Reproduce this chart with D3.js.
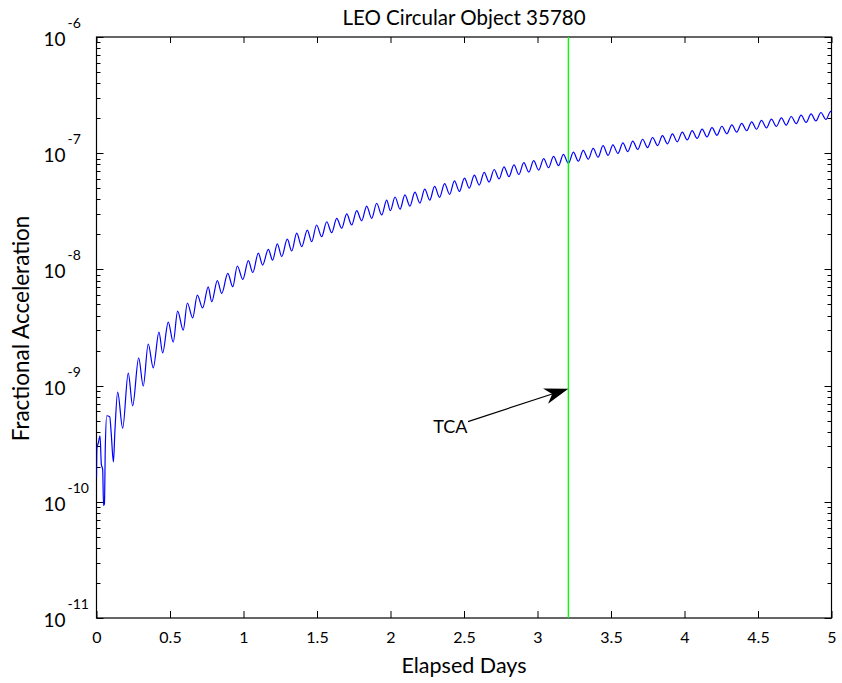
<!DOCTYPE html>
<html>
<head>
<meta charset="utf-8">
<script src="https://cdn.jsdelivr.net/npm/d3@7"></script>
<style>
  html, body { margin: 0; padding: 0; background: #fff; }
  svg text { font-family: Lato, "Liberation Sans", sans-serif; fill: #000; }
</style>
</head>
<body>
<svg id="chart" width="842" height="683"></svg>
<script>
// ---------- data ----------
const chartTitle = "LEO Circular Object 35780";
const xLabel = "Elapsed Days";
const yLabel = "Fractional Acceleration";
const xTicks = [0, 0.5, 1, 1.5, 2, 2.5, 3, 3.5, 4, 4.5, 5];
const xTickLabels = ["0", "0.5", "1", "1.5", "2", "2.5", "3", "3.5", "4", "4.5", "5"];
const yDecadeExponents = [-11, -10, -9, -8, -7, -6];
const yMinorMultipliers = [2, 3, 4, 5, 6, 7, 8, 9];
const tcaDay = 3.21;
const tcaLabel = "TCA";
const tcaArrowTail = [2.527, 4.9e-10];
const tcaArrowTip = [3.21, 9.4e-10];
const tcaTextPos = [2.29, 3.9e-10];

// [elapsed days, fractional acceleration]
const accelSeries = [
  [0.000, 1.6e-10], [0.003, 2.9e-10], [0.012, 3.2e-10], [0.024, 3.7e-10], [0.033, 2.1e-10],
  [0.042, 1.9e-10], [0.048, 9.3e-11], [0.054, 9.6e-11], [0.060, 3.0e-10], [0.070, 5.5e-10],
  [0.090, 5.4e-10], [0.100, 3.9e-10], [0.115, 2.2e-10], [0.125, 4.0e-10], [0.144, 8.8e-10],
  [0.178, 4.3e-10], [0.216, 1.28e-9], [0.246, 6.7e-10], [0.287, 1.73e-9], [0.318, 9.9e-10],
  [0.352, 2.28e-9], [0.386, 1.42e-9], [0.425, 2.89e-9], [0.450, 1.91e-9], [0.488, 3.52e-9],
  [0.522, 2.37e-9], [0.552, 4.38e-9], [0.590, 3.0e-9], [0.618, 5.14e-9], [0.654, 3.82e-9],
  [0.686, 6.0e-9], [0.722, 4.66e-9], [0.760, 7.06e-9], [0.784, 5.27e-9], [0.822, 8.0e-9],
  [0.852, 6.22e-9], [0.893, 9.25e-9], [0.927, 7.1e-9], [0.958, 1.07e-8], [0.995, 8.2e-9],
  [1.033, 1.19e-8], [1.063, 9.4e-9], [1.101, 1.38e-8], [1.130, 1.09e-8], [1.169, 1.49e-8],
  [1.198, 1.2e-8], [1.230, 1.66e-8], [1.260, 1.29e-8], [1.298, 1.82e-8], [1.328, 1.44e-8],
  [1.362, 2.05e-8], [1.396, 1.57e-8], [1.434, 2.18e-8], [1.464, 1.73e-8], [1.497, 2.41e-8],
  [1.532, 1.91e-8], [1.566, 2.57e-8], [1.600, 2.07e-8], [1.634, 2.75e-8], [1.668, 2.26e-8],
  [1.702, 3.0e-8], [1.736, 2.41e-8], [1.770, 3.2e-8], [1.804, 2.62e-8], [1.838, 3.51e-8],
  [1.872, 2.75e-8], [1.906, 3.71e-8], [1.940, 2.94e-8], [1.974, 3.95e-8], [1.999, 3.2e-8],
  [2.031, 4.2e-8], [2.065, 3.30e-8], [2.098, 4.38e-8], [2.132, 3.50e-8], [2.166, 4.62e-8],
  [2.200, 3.72e-8], [2.233, 4.90e-8], [2.267, 3.94e-8], [2.300, 5.19e-8], [2.334, 4.17e-8],
  [2.368, 5.48e-8], [2.402, 4.43e-8], [2.435, 5.79e-8], [2.469, 4.69e-8], [2.503, 6.11e-8],
  [2.536, 5.00e-8], [2.570, 6.47e-8], [2.604, 5.32e-8], [2.637, 6.84e-8], [2.671, 5.65e-8],
  [2.705, 7.24e-8], [2.739, 6.01e-8], [2.772, 7.64e-8], [2.806, 6.28e-8], [2.840, 7.94e-8],
  [2.873, 6.56e-8], [2.907, 8.30e-8], [2.941, 6.87e-8], [2.974, 8.63e-8], [3.008, 7.16e-8],
  [3.042, 8.99e-8], [3.075, 7.50e-8], [3.109, 9.38e-8], [3.143, 7.82e-8], [3.176, 9.77e-8],
  [3.210, 8.17e-8], [3.244, 1.02e-7], [3.278, 8.53e-8], [3.311, 1.057e-7], [3.345, 8.87e-8],
  [3.379, 1.099e-7], [3.412, 9.23e-8], [3.446, 1.16e-7], [3.480, 9.57e-8], [3.513, 1.18e-7],
  [3.547, 9.95e-8], [3.581, 1.225e-7], [3.614, 1.033e-7], [3.648, 1.271e-7], [3.682, 1.076e-7],
  [3.715, 1.318e-7], [3.749, 1.117e-7], [3.783, 1.365e-7], [3.817, 1.161e-7], [3.850, 1.416e-7],
  [3.884, 1.205e-7], [3.918, 1.466e-7], [3.951, 1.253e-7], [3.985, 1.521e-7], [4.019, 1.300e-7],
  [4.052, 1.567e-7], [4.086, 1.340e-7], [4.120, 1.614e-7], [4.153, 1.380e-7], [4.187, 1.660e-7],
  [4.221, 1.426e-7], [4.254, 1.706e-7], [4.288, 1.469e-7], [4.322, 1.754e-7], [4.355, 1.517e-7],
  [4.389, 1.807e-7], [4.423, 1.560e-7], [4.457, 1.862e-7], [4.490, 1.607e-7], [4.524, 1.914e-7],
  [4.558, 1.652e-7], [4.591, 1.963e-7], [4.625, 1.702e-7], [4.659, 2.014e-7], [4.692, 1.746e-7],
  [4.726, 2.070e-7], [4.760, 1.795e-7], [4.793, 2.123e-7], [4.827, 1.841e-7], [4.861, 2.178e-7],
  [4.894, 1.897e-7], [4.928, 2.239e-7], [4.962, 1.950e-7], [4.995, 2.296e-7], [5.000, 2.25e-7]
];

// ---------- layout ----------
const svg = d3.select("#chart");
const pLeft = 96.5, pRight = 831.5, pTop = 37, pBottom = 618;

const x = d3.scaleLinear().domain([0, 5]).range([pLeft, pRight]);
const y = d3.scaleLog().domain([1e-11, 1e-6]).range([pBottom, pTop]);

// frame
svg.append("rect")
  .attr("x", pLeft).attr("y", pTop)
  .attr("width", pRight - pLeft).attr("height", pBottom - pTop)
  .attr("fill", "none").attr("stroke", "#000").attr("stroke-width", 1.2);

// x axes
const xAxisBottom = d3.axisBottom(x).tickValues(xTicks)
  .tickFormat((d, i) => xTickLabels[i]).tickSizeInner(-7).tickSizeOuter(0).tickPadding(14);
const gxb = svg.append("g").attr("transform", `translate(0,${pBottom})`).call(xAxisBottom);
gxb.selectAll("text").style("font-size", "16px").style("font-family", "Lato, sans-serif");
gxb.select(".domain").remove();

const xAxisTop = d3.axisTop(x).tickValues(xTicks).tickFormat("").tickSizeInner(-6).tickSizeOuter(0);
const gxt = svg.append("g").attr("transform", `translate(0,${pTop})`).call(xAxisTop);
gxt.select(".domain").remove();
svg.selectAll(".tick line").attr("stroke", "#000").attr("stroke-width", 1);

// y ticks (log, major + minor) on both sides, pointing inward
const majorVals = yDecadeExponents.map(e => Math.pow(10, e));
const minorVals = [];
yDecadeExponents.slice(0, -1).forEach(e => {
  yMinorMultipliers.forEach(m => minorVals.push(m * Math.pow(10, e)));
});
const yTickData = majorVals.map(v => ({ v, len: 7 })).concat(minorVals.map(v => ({ v, len: 4 })));
const yTickG = svg.append("g").attr("stroke", "#000").attr("stroke-width", 1);
[[pLeft, 1], [pRight, -1]].forEach(([x0, dir]) => {
  yTickG.selectAll(null).data(yTickData).enter().append("line")
    .attr("x1", x0).attr("x2", d => x0 + dir * d.len)
    .attr("y1", d => Math.round(y(d.v)) + 0.5).attr("y2", d => Math.round(y(d.v)) + 0.5);
});

// y tick labels: 10^e
const ylab = svg.append("g");
yDecadeExponents.forEach(e => {
  const yy = y(Math.pow(10, e));
  ylab.append("text").attr("x", pLeft - 31).attr("y", yy + 9)
    .attr("text-anchor", "end").style("font-size", "19px").text("10");
  ylab.append("text").attr("x", pLeft - 29).attr("y", yy - 9)
    .attr("text-anchor", "start").style("font-size", "14px").text(String(e));
});

// data line
svg.append("defs").append("clipPath").attr("id", "clip")
  .append("rect").attr("x", pLeft).attr("y", pTop).attr("width", pRight - pLeft).attr("height", pBottom - pTop);

const line = d3.line().x(d => x(d[0])).y(d => y(d[1])).curve(d3.curveMonotoneX);
svg.append("path").datum(accelSeries)
  .attr("clip-path", "url(#clip)")
  .attr("d", line).attr("fill", "none").attr("stroke", "#0000ff").attr("stroke-width", 1.2);

// TCA vertical line
svg.append("line")
  .attr("x1", x(tcaDay)).attr("x2", x(tcaDay)).attr("y1", pTop).attr("y2", pBottom)
  .attr("stroke", "#00ff00").attr("stroke-width", 1.4);

// arrow annotation
const tx = x(tcaArrowTail[0]), ty = y(tcaArrowTail[1]);
const hx = x(tcaArrowTip[0]), hy = y(tcaArrowTip[1]);
const len = Math.hypot(hx - tx, hy - ty);
const ux = (hx - tx) / len, uy = (hy - ty) / len;
const nx = -uy, ny = ux;
const headLen = 24, headHalf = 8, notch = 17;
const bx = hx - headLen * ux, by = hy - headLen * uy;
const mx = hx - notch * ux, my = hy - notch * uy;
svg.append("line").attr("x1", tx).attr("y1", ty).attr("x2", mx).attr("y2", my)
  .attr("stroke", "#000").attr("stroke-width", 1.2);
svg.append("path")
  .attr("d", `M${hx},${hy}L${bx + headHalf * nx},${by + headHalf * ny}L${mx},${my}L${bx - headHalf * nx},${by - headHalf * ny}Z`)
  .attr("fill", "#000");
svg.append("text").attr("x", x(tcaTextPos[0])).attr("y", y(tcaTextPos[1]))
  .style("font-size", "18px").text(tcaLabel);

// titles
svg.append("text").attr("x", (pLeft + pRight) / 2).attr("y", 25)
  .attr("text-anchor", "middle").style("font-size", "20.5px").text(chartTitle);
svg.append("text").attr("x", (pLeft + pRight) / 2).attr("y", 673)
  .attr("text-anchor", "middle").style("font-size", "21.5px").text(xLabel);
svg.append("text").attr("transform", `translate(29,${(pTop + pBottom) / 2 + 1}) rotate(-90)`)
  .attr("text-anchor", "middle").style("font-size", "22.5px").text(yLabel);
</script>
</body>
</html>
